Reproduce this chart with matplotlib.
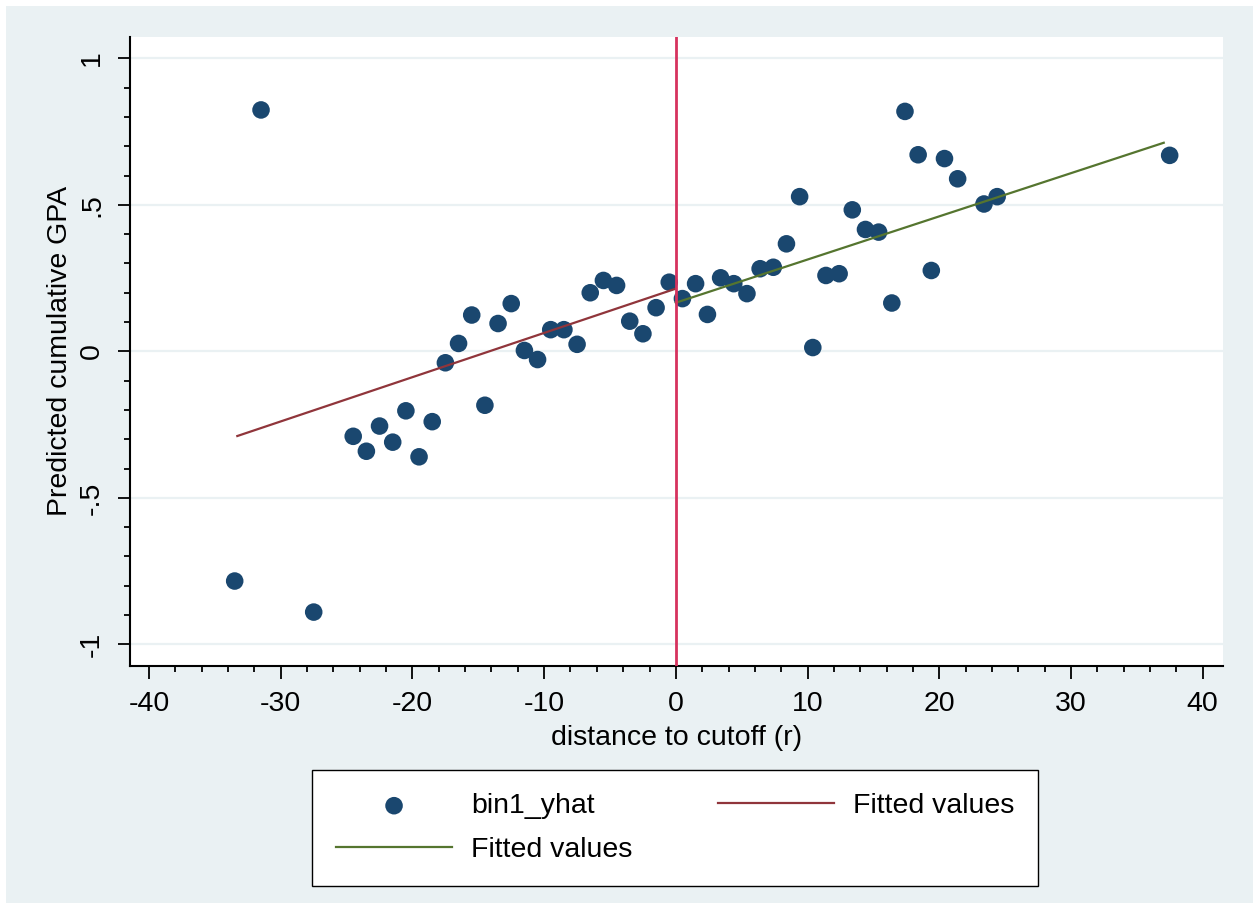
import matplotlib
matplotlib.use("Agg")
import matplotlib.pyplot as plt
from matplotlib.patches import Rectangle
from matplotlib.ticker import MultipleLocator, FixedLocator

plt.rcParams['font.family'] = ['Liberation Sans', 'DejaVu Sans']
plt.rcParams['axes.unicode_minus'] = False

# binned means of predicted GPA by distance to cutoff
r_bins = [-33.5, -31.5, -27.5, -24.5, -23.5, -22.5, -21.5, -20.5, -19.5, -18.5,
          -17.5, -16.5, -15.5, -14.5, -13.5, -12.5, -11.5, -10.5, -9.5, -8.5,
          -7.5, -6.5, -5.5, -4.5, -3.5, -2.5, -1.5, -0.5, 0.5, 1.5,
          2.4, 3.4, 4.4, 5.4, 6.4, 7.4, 8.4, 9.4, 10.4, 11.4,
          12.4, 13.4, 14.4, 15.4, 16.4, 17.4, 18.4, 19.4, 20.4, 21.4,
          23.4, 24.4, 37.5]
bin1_yhat = [-0.784, 0.824, -0.890, -0.290, -0.341, -0.255, -0.310, -0.203, -0.360, -0.240,
             -0.039, 0.027, 0.124, -0.184, 0.095, 0.163, 0.003, -0.028, 0.074, 0.074,
             0.024, 0.200, 0.242, 0.225, 0.103, 0.060, 0.149, 0.236, 0.180, 0.231,
             0.126, 0.251, 0.231, 0.197, 0.282, 0.287, 0.367, 0.528, 0.013, 0.259,
             0.265, 0.483, 0.416, 0.407, 0.165, 0.819, 0.671, 0.276, 0.658, 0.589,
             0.503, 0.528, 0.669]

# linear fits on each side of the cutoff
fit_left_x = [-33.3, 0.0]
fit_left_y = [-0.289, 0.214]
fit_right_x = [0.0, 37.05]
fit_right_y = [0.166, 0.712]

bg = '#EAF1F3'
navy = '#1A476F'
fs = 20.5

fig = plt.figure(figsize=(12.53, 9.11), dpi=100, facecolor='white')
fig.patches.append(Rectangle((6 / 1253, 8 / 911), 1 - 6 / 1253, 1 - 14 / 911,
                             transform=fig.transFigure, facecolor=bg,
                             edgecolor='none', zorder=-10))

ax = fig.add_axes([130 / 1253, 1 - 665.7 / 911, (1223 - 130) / 1253, (665.7 - 36.7) / 911])
ax.set_facecolor('white')

for yv in [-1, -0.5, 0, 0.5, 1]:
    ax.axhline(yv, color=bg, lw=1.6, zorder=1)

ax.scatter(r_bins, bin1_yhat, s=160, color=navy, edgecolors='none', zorder=3,
           label='bin1_yhat')
red, = ax.plot(fit_left_x, fit_left_y, color='#90353B', lw=1.6, zorder=4,
               label='Fitted values')
green, = ax.plot(fit_right_x, fit_right_y, color='#55752F', lw=1.6, zorder=4,
                 label='Fitted values')
ax.axvline(0, color='#D6325E', lw=2.0, zorder=5)

ax.set_xlim(-41.45, 41.55)
ax.set_ylim(-1.073, 1.074)

ax.xaxis.set_major_locator(MultipleLocator(10))
ax.xaxis.set_minor_locator(MultipleLocator(2))
ax.yaxis.set_major_locator(FixedLocator([-1, -0.5, 0, 0.5, 1]))
ax.yaxis.set_minor_locator(MultipleLocator(0.1))
ax.set_yticklabels(['-1', '-.5', '0', '.5', '1'], rotation=90, va='center')

for s in ['top', 'right']:
    ax.spines[s].set_visible(False)
for s in ['left', 'bottom']:
    ax.spines[s].set_linewidth(1.5)
    ax.spines[s].set_color('black')

ax.tick_params(which='major', length=9, width=1.3, labelsize=fs, pad=9)
ax.tick_params(which='minor', length=4.5, width=1.3)

ax.set_xlabel('distance to cutoff (r)', fontsize=fs, labelpad=6)
ax.set_ylabel('Predicted cumulative GPA', fontsize=fs, labelpad=4)

sc = ax.collections[0]
leg = fig.legend([sc, green, red], ['bin1_yhat', 'Fitted values', 'Fitted values'],
                 ncol=2, loc='center', bbox_to_anchor=(675 / 1253, 1 - 828 / 911),
                 fontsize=fs, frameon=True, fancybox=False, edgecolor='black',
                 facecolor='white', framealpha=1, handlelength=4.1,
                 handletextpad=0.65, columnspacing=3.0, labelspacing=0.62,
                 borderpad=0.82, borderaxespad=0, scatterpoints=1)
leg.get_frame().set_linewidth(1.0)

fig.savefig('out.png', dpi=100, facecolor='white')
